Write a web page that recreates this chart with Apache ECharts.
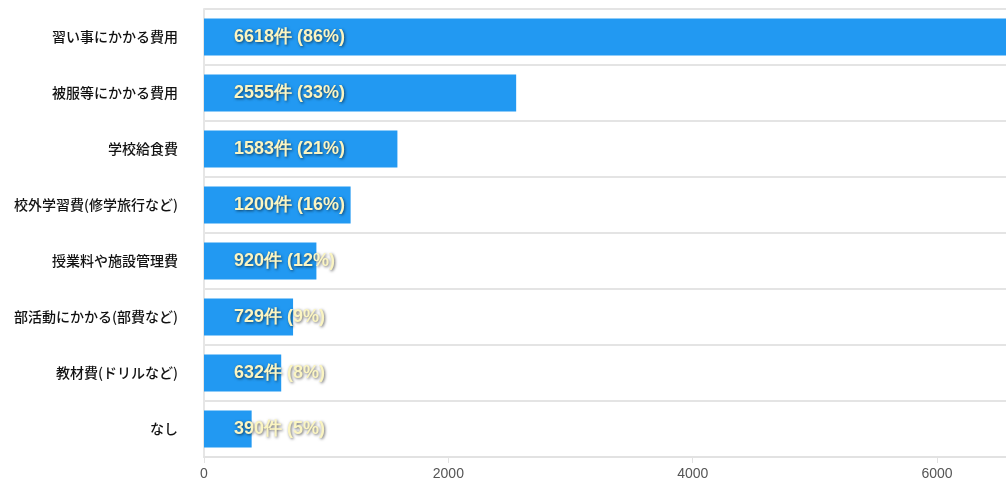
<!DOCTYPE html>
<html>
<head>
<meta charset="utf-8">
<script src="https://cdn.jsdelivr.net/npm/echarts@6/dist/echarts.min.js"></script>
<style>
html, body { margin: 0; padding: 0; background: #fff; overflow: hidden; }
#main { width: 1200px; height: 484px; }
</style>
</head>
<body>
<div id="main"></div>
<script>
var categories = ['習い事にかかる費用', '被服等にかかる費用', '学校給食費', '校外学習費(修学旅行など)', '授業料や施設管理費', '部活動にかかる(部費など)', '教材費(ドリルなど)', 'なし'];
var counts = [6618, 2555, 1583, 1200, 920, 729, 632, 390];
var percents = [86, 33, 21, 16, 12, 9, 8, 5];
var xTicks = [0, 2000, 4000, 6000, 8000];

// the page only shows the left 1006px, the axis runs on past the edge
var chart = echarts.init(document.getElementById('main'));
chart.setOption({
    backgroundColor: '#fff',
    animation: false,
    grid: {
        left: 204,
        right: 8,
        top: 9,
        bottom: 27
    },
    xAxis: {
        type: 'value',
        min: xTicks[0],
        max: xTicks[xTicks.length - 1],
        interval: 2000,
        axisLine: { show: true, lineStyle: { color: '#e2e2e2', width: 2 } },
        axisTick: { show: true, length: 6, lineStyle: { color: '#e2e2e2' } },
        axisLabel: {
            color: '#555',
            fontSize: 14,
            margin: 10,
            fontFamily: 'Liberation Sans',
            formatter: function (v) { return String(v); }
        },
        splitLine: { show: false }
    },
    yAxis: {
        type: 'category',
        inverse: true,
        data: categories,
        axisLine: { show: true, lineStyle: { color: '#e6e6e6', width: 2 } },
        axisTick: { show: false },
        axisLabel: {
            color: '#111',
            fontSize: 14,
            fontWeight: 500,
            margin: 26,
            fontFamily: 'Noto Sans CJK JP'
        },
        splitLine: { show: true, lineStyle: { color: '#e4e4e4', width: 2 } }
    },
    series: [{
        type: 'bar',
        data: counts,
        barCategoryGap: '34%',
        itemStyle: { color: '#2299f2' },
        label: {
            show: true,
            position: 'insideLeft',
            distance: 30,
            color: '#fbf5c2',
            fontSize: 18,
            fontWeight: 'bold',
            fontFamily: 'Liberation Sans',
            textShadowColor: 'rgba(0,0,0,0.6)',
            textShadowBlur: 3,
            textShadowOffsetX: 1,
            textShadowOffsetY: 1,
            formatter: function (p) {
                return counts[p.dataIndex] + '件 (' + percents[p.dataIndex] + '%)';
            }
        }
    }]
});
</script>
</body>
</html>
